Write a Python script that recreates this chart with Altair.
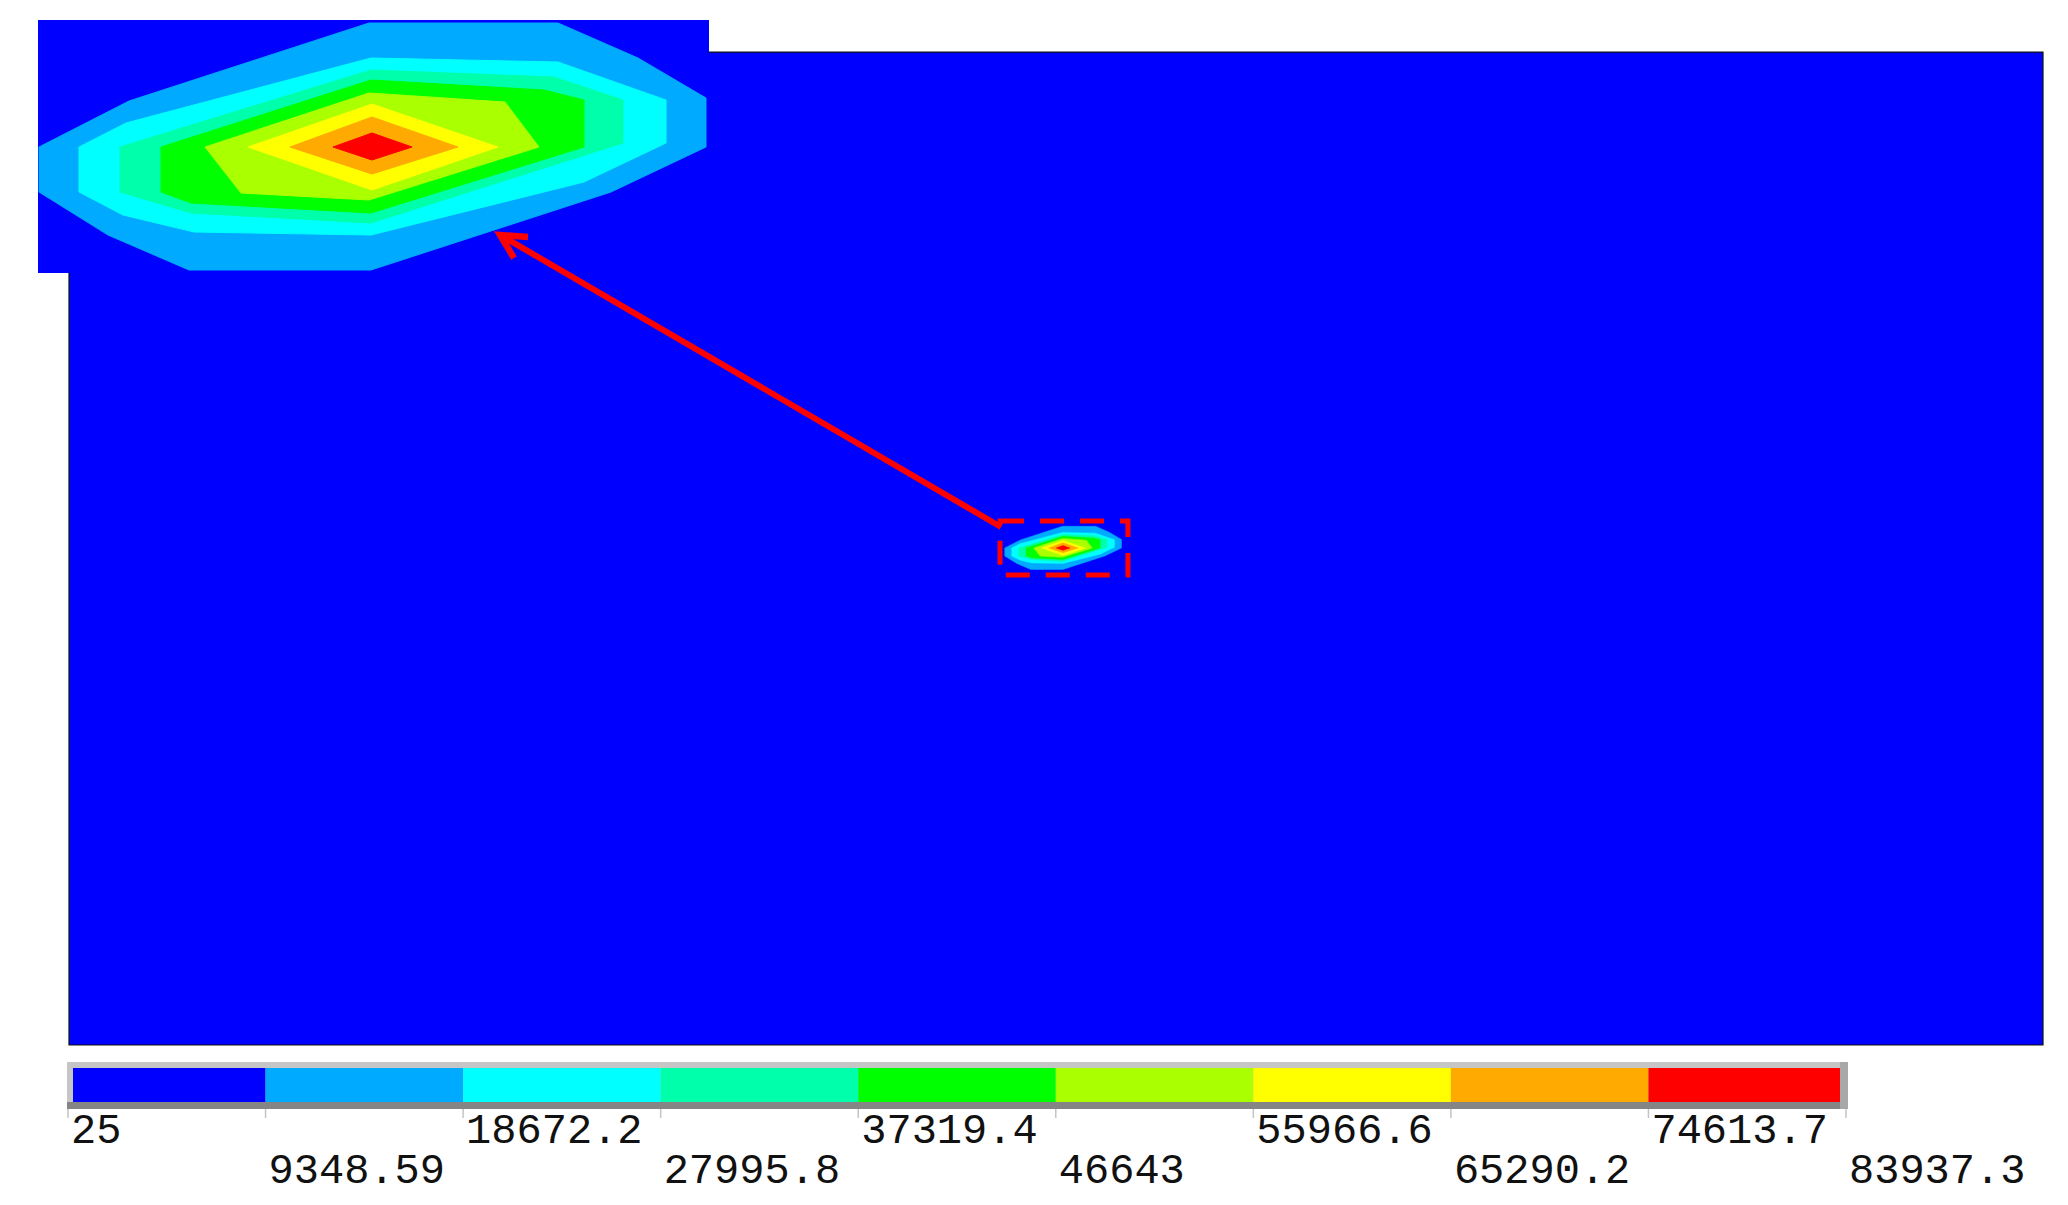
import altair as alt
import pandas as pd

# ---- colour legend (nodal solution bands) ----
BOUNDS = [25, 9348.59, 18672.2, 27995.8, 37319.4, 46643, 55966.6, 65290.2, 74613.7, 83937.3]
LABELS = ["25", "9348.59", "18672.2", "27995.8", "37319.4", "46643",
          "55966.6", "65290.2", "74613.7", "83937.3"]
COLORS = ["#0000ff", "#00aaff", "#00ffff", "#00ffaa", "#00ff00",
          "#aaff00", "#ffff00", "#ffaa00", "#ff0000"]

# ---- contour polygons: level k = region above BOUNDS[k]; offsets from the source point ----
L1_U = [-333, -243, -3, 186, 266, 334, 334, 239, -1, -183, -264, -333]
L1_V = [0, 46, 124, 124, 89, 49, 0, -45, -123, -123, -88, -45]
L2_U = [-293, -246, -1, 186, 294, 294, 212, -1, -178, -249, -293]
L2_V = [0, 24, 89, 85, 47, 4, -35, -88, -85, -68, -45]
L3_U = [-252, -1, 182, 251, 251, -1, -181, -252]
L3_V = [0, 77, 70, 47, 4, -76, -66, -45]
L4_U = [-211, -1, 172, 212, 212, -1, -181, -211]
L4_V = [0, 67, 57, 47, 0, -66, -56, -45]
L5_U = [-167, -3, 133, 167, -3, -131]
L5_V = [0, 54, 45, 0, -53, -46]
L6_U = [-124, 0, 126, 0]
L6_V = [0, 43, 0, -43]
L7_U = [-82, 0, 86, 0]
L7_V = [0, 30, 0, -27]
L8_U = [-39, 0, 40, 0]
L8_V = [0, 14, 0, -13]
LEVEL_U = [L1_U, L2_U, L3_U, L4_U, L5_U, L6_U, L7_U, L8_U]
LEVEL_V = [L1_V, L2_V, L3_V, L4_V, L5_V, L6_V, L7_V, L8_V]

# model extents
DOMAIN_U = [-5680, 5600]
DOMAIN_V = [-2840, 2834]
BOX_U = [-360, 371]          # dashed detail window
BOX_V = [-154, 154]
INSET_U = [-334, 337]        # magnified window (inset units)
INSET_V = [-126, 127]
ARROW_U = [629, 130]         # inset units
ARROW_V = [-380, -89]
HEAD_U = [156, 128, 142]
HEAD_V = [-90, -88, -111]

rows = []
for k, (us, vs) in enumerate(zip(LEVEL_U, LEVEL_V), start=1):
    for i, (u, v) in enumerate(zip(us, vs)):
        rows.append({"level": k, "i": i, "u": u, "v": v})
poly = pd.DataFrame(rows)

# scales
A_X = alt.Scale(domain=[-5862.86, 5600], nice=False, zero=False)
A_Y = alt.Scale(domain=[-2840, 3017.14], nice=False, zero=False)
B_X = alt.Scale(domain=[-335, 1671], nice=False, zero=False)
B_Y = alt.Scale(domain=[-898, 127], nice=False, zero=False)


def contour_layers(xs, ys, sw):
    out = []
    for k in range(1, 9):
        out.append(
            alt.Chart(poly).transform_filter(alt.datum.level == k)
            .mark_line(fill=COLORS[k], stroke=COLORS[k], strokeWidth=sw,
                       interpolate="linear-closed", strokeJoin="miter")
            .encode(x=alt.X("u:Q", scale=xs, axis=None),
                    y=alt.Y("v:Q", scale=ys, axis=None),
                    order=alt.Order("i:Q"))
        )
    return out


def rect_df(us, vs):
    return pd.DataFrame({"u0": [us[0]], "u1": [us[1]], "v0": [vs[0]], "v1": [vs[1]]})


main_rect = alt.Chart(rect_df(DOMAIN_U, DOMAIN_V)).mark_rect(
    fill="#0000ff", stroke="#111111", strokeWidth=1.2
).encode(x=alt.X("u0:Q", scale=A_X, axis=None), x2="u1:Q",
         y=alt.Y("v0:Q", scale=A_Y, axis=None), y2="v1:Q")

box = alt.Chart(rect_df(BOX_U, BOX_V)).mark_rect(
    fillOpacity=0, stroke="#ff0000", strokeWidth=5, strokeDash=[24, 16]
).encode(x=alt.X("u0:Q", scale=A_X, axis=None), x2="u1:Q",
         y=alt.Y("v0:Q", scale=A_Y, axis=None), y2="v1:Q")

main_group = alt.layer(main_rect, *contour_layers(A_X, A_Y, 0.5), box)

inset_rect = alt.Chart(rect_df(INSET_U, INSET_V)).mark_rect(
    fill="#0000ff"
).encode(x=alt.X("u0:Q", scale=B_X, axis=None), x2="u1:Q",
         y=alt.Y("v0:Q", scale=B_Y, axis=None), y2="v1:Q")

arrow = alt.Chart(pd.DataFrame({"u": ARROW_U, "v": ARROW_V, "i": [0, 1]})).mark_line(
    color="#ff0000", strokeWidth=6
).encode(x=alt.X("u:Q", scale=B_X, axis=None), y=alt.Y("v:Q", scale=B_Y, axis=None),
         order="i:Q")
head = alt.Chart(pd.DataFrame({"u": HEAD_U, "v": HEAD_V, "i": [0, 1, 2]})).mark_line(
    color="#ff0000", strokeWidth=6.5, strokeJoin="miter"
).encode(x=alt.X("u:Q", scale=B_X, axis=None), y=alt.Y("v:Q", scale=B_Y, axis=None),
         order="i:Q")

inset_group = alt.layer(inset_rect, *contour_layers(B_X, B_Y, 1), arrow, head)

top = alt.layer(main_group, inset_group).resolve_scale(
    x="independent", y="independent"
).properties(width=2006, height=1025)

# ---- colour bar ----
XV = alt.Scale(domain=[BOUNDS[0], BOUNDS[-1]], range=[31, 1809], nice=False, zero=False)
bands = pd.DataFrame({"lo": BOUNDS[:-1], "hi": BOUNDS[1:], "color": COLORS})
ends = pd.DataFrame({"lo": [BOUNDS[0]], "hi": [BOUNDS[-1]]})
labs = pd.DataFrame({"val": BOUNDS, "label": LABELS, "row": [i % 2 for i in range(len(BOUNDS))]})

frame = alt.Chart(ends).mark_rect(fill="#c6c6c6", xOffset=-1, x2Offset=2).encode(
    x=alt.X("lo:Q", scale=XV, axis=None), x2="hi:Q", y=alt.value(0), y2=alt.value(47))
frame_dark = alt.Chart(ends).mark_rect(fill="#858585", xOffset=-1, x2Offset=2).encode(
    x=alt.X("lo:Q", scale=XV, axis=None), x2="hi:Q", y=alt.value(40), y2=alt.value(47))
band_marks = alt.Chart(bands).mark_rect().encode(
    x=alt.X("lo:Q", scale=XV, axis=None), x2="hi:Q",
    y=alt.value(6), y2=alt.value(40),
    color=alt.Color("color:N", scale=None))
cap_l = alt.Chart(ends).mark_rect(fill="#c6c6c6", xOffset=-1, x2Offset=5).encode(
    x=alt.X("lo:Q", scale=XV, axis=None), x2="lo:Q", y=alt.value(0), y2=alt.value(40))
cap_r = alt.Chart(ends).mark_rect(fill="#a8a8a8", xOffset=-6, x2Offset=2).encode(
    x=alt.X("hi:Q", scale=XV, axis=None), x2="hi:Q", y=alt.value(0), y2=alt.value(47))
ticks = alt.Chart(labs).mark_rule(color="#c4c4c4", strokeWidth=1.5).encode(
    x=alt.X("val:Q", scale=XV, axis=None), y=alt.value(47), y2=alt.value(56))
text_common = dict(align="left", baseline="alphabetic", font="Liberation Mono",
                   fontSize=42, color="#111111", dx=3)
row1 = alt.Chart(labs).transform_filter(alt.datum.row == 0).mark_text(**text_common).encode(
    x=alt.X("val:Q", scale=XV, axis=None), y=alt.value(81), text="label:N")
row2 = alt.Chart(labs).transform_filter(alt.datum.row == 1).mark_text(**text_common).encode(
    x=alt.X("val:Q", scale=XV, axis=None), y=alt.value(121), text="label:N")

bottom = alt.layer(frame, frame_dark, band_marks, cap_l, cap_r, ticks, row1, row2).properties(
    width=2006, height=135)

chart = alt.vconcat(top, bottom, spacing=16).properties(
    padding={"left": 28, "top": 12, "right": 0, "bottom": 0}
).configure_view(strokeWidth=0)

chart.save("out.html", embed_options={"renderer": "svg", "actions": False})
